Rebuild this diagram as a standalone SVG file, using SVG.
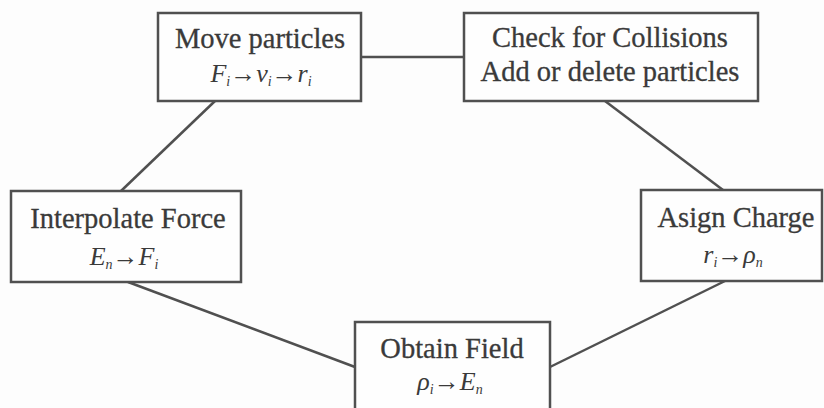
<svg xmlns="http://www.w3.org/2000/svg" width="824" height="408" viewBox="0 0 824 408">
<style>
.box{fill:#fefefe;stroke:#505050;stroke-width:2.5}
.lbl{font-family:'Liberation Serif',Tinos,serif;font-size:28.5px;fill:#3a3a3a;stroke:#3a3a3a;stroke-width:0.3;text-anchor:middle}
.eq{font-family:'Liberation Serif',Tinos,serif;font-size:26px;font-style:italic;fill:#3a3a3a;text-anchor:middle}
.sub{font-size:14px}
.conn{stroke:#505050;stroke-width:2.5;fill:none}
</style>
<rect width="824" height="408" fill="#fdfdfd"/>
<g id="connectors">
<line class="conn" x1="361" y1="57" x2="464" y2="57"/>
<line class="conn" x1="215" y1="101" x2="121" y2="191"/>
<line class="conn" x1="605" y1="101" x2="723" y2="190"/>
<line class="conn" x1="128" y1="282" x2="355" y2="367"/>
<line class="conn" x1="725" y1="281" x2="550" y2="367"/>
</g>
<g id="move">
<rect class="box" x="158" y="13" width="203" height="88"/>
<text class="lbl" x="260" y="48">Move particles</text>
<text class="eq" x="261" y="82">F<tspan class="sub" dy="4">i</tspan><tspan dy="-4">→v</tspan><tspan class="sub" dy="4">i</tspan><tspan dy="-4">→r</tspan><tspan class="sub" dy="4">i</tspan></text>
</g>
<g id="check">
<rect class="box" x="464" y="13" width="294" height="88"/>
<text class="lbl" x="610" y="47">Check for Collisions</text>
<text class="lbl" x="610" y="81">Add or delete particles</text>
</g>
<g id="interp">
<rect class="box" x="11" y="191" width="230" height="91"/>
<text class="lbl" x="128" y="228">Interpolate Force</text>
<text class="eq" x="124" y="265">E<tspan class="sub" dy="4">n</tspan><tspan dy="-4">→F</tspan><tspan class="sub" dy="4">i</tspan></text>
</g>
<g id="assign">
<rect class="box" x="641" y="190" width="181" height="91"/>
<text class="lbl" x="736" y="227">Asign Charge</text>
<text class="eq" x="733" y="263">r<tspan class="sub" dy="4">i</tspan><tspan dy="-4">→ρ</tspan><tspan class="sub" dy="4">n</tspan></text>
</g>
<g id="obtain">
<rect class="box" x="355" y="322" width="195" height="100"/>
<text class="lbl" x="452" y="358">Obtain Field</text>
<text class="eq" x="450" y="390">ρ<tspan class="sub" dy="4">i</tspan><tspan dy="-4">→E</tspan><tspan class="sub" dy="4">n</tspan></text>
</g>
</svg>
